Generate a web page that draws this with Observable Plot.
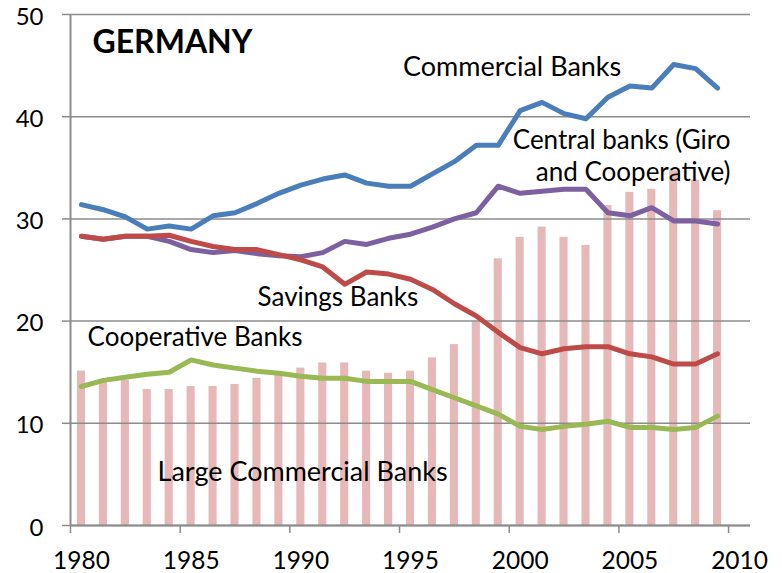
<!DOCTYPE html>
<html>
<head>
<meta charset="utf-8">
<script src="https://cdn.jsdelivr.net/npm/d3@7"></script>
<script src="https://cdn.jsdelivr.net/npm/@observablehq/plot@0.6"></script>
<style>
  html, body { margin: 0; padding: 0; background: #fff; }
  #chart svg { display: block; }
</style>
</head>
<body>
<div id="chart"></div>
<script>
// ---- data ----
const years = d3.range(1980, 2010);
const commercialBanks = [31.4,30.9,30.2,29.0,29.3,29.0,30.3,30.6,31.5,32.5,33.3,33.9,34.3,33.5,33.2,33.2,34.4,35.6,37.2,37.2,40.6,41.4,40.3,39.8,41.9,43.0,42.8,45.1,44.7,42.8];
const centralBanks = [28.3,28.0,28.3,28.3,27.8,27.0,26.7,26.9,26.6,26.4,26.3,26.7,27.8,27.5,28.1,28.5,29.2,30.0,30.6,33.2,32.5,32.7,32.9,32.9,30.6,30.3,31.1,29.8,29.8,29.5];
const savingsBanks = [28.3,28.0,28.3,28.3,28.4,27.8,27.3,27.0,27.0,26.5,26.0,25.3,23.6,24.8,24.6,24.1,23.1,21.7,20.5,18.9,17.4,16.8,17.3,17.5,17.5,16.8,16.5,15.8,15.8,16.8];
const cooperativeBanks = [13.6,14.2,14.5,14.8,15.0,16.2,15.7,15.4,15.1,14.9,14.6,14.4,14.4,14.1,14.1,14.1,13.3,12.5,11.7,10.9,9.7,9.4,9.7,9.9,10.2,9.6,9.6,9.4,9.6,10.7];
const largeCommercialBanks = [15.1,14.2,14.2,13.3,13.3,13.6,13.6,13.8,14.4,14.8,15.4,15.9,15.9,15.1,14.9,15.1,16.4,17.7,19.9,26.1,28.2,29.2,28.2,27.4,31.3,32.6,32.9,34.7,33.8,30.8];
const xTicks = [1980, 1985, 1990, 1995, 2000, 2005, 2010];
const yTicks = [0, 10, 20, 30, 40, 50];
const titleText = "GERMANY";
const seriesLabels = ["Commercial Banks", "Central banks (Giro", "and Cooperative)", "Savings Banks", "Cooperative Banks", "Large Commercial Banks"];

// ---- table built from arrays ----
const rows = years.map((year, i) => ({
  year,
  commercial: commercialBanks[i],
  central: centralBanks[i],
  savings: savingsBanks[i],
  cooperative: cooperativeBanks[i],
  large: largeCommercialBanks[i]
}));

const FONT = "Lato, 'Open Sans', sans-serif";
const GRID = "#8c8c8c";
const mid = d => d.year + 0.5;
const lineOpts = {x: mid, strokeWidth: 5, strokeLinejoin: "round", strokeLinecap: "round"};
const label = (txt, x, y, opts = {}) =>
  Plot.text([txt], {x: () => x, y: () => y, text: d => d, fontFamily: FONT, fontSize: 26, fill: "#000",
                    textAnchor: "start", lineAnchor: "middle", ...opts});

const chart = Plot.plot({
  width: 782,
  height: 573,
  marginLeft: 70,
  marginRight: 32,
  marginTop: 14,
  marginBottom: 48,
  x: {domain: [1980, 2011]},
  y: {domain: [0, 50]},
  style: {fontFamily: FONT, color: "#000", background: "#fff"},
  marks: [
    Plot.rectY(rows, {x1: d => d.year + 0.5 - 0.185, x2: d => d.year + 0.5 + 0.185, y: "large", fill: "#e6b9b8"}),
    Plot.gridY(yTicks, {stroke: GRID, strokeOpacity: 1, strokeWidth: 1.5}),
    Plot.axisY(yTicks, {tickSize: 8, stroke: GRID, strokeWidth: 1.5, tickFormat: () => "", label: null}),
    Plot.text(yTicks, {y: d => d, frameAnchor: "left", dx: -27, dy: 2.5, textAnchor: "end", lineAnchor: "middle",
                       text: d => String(d), fontSize: 24, fill: "#000", fontFamily: FONT}),
    Plot.axisX(xTicks, {tickSize: 8, stroke: GRID, strokeWidth: 1.5, tickFormat: () => "", label: null}),
    Plot.axisX(xTicks, {tickSize: 0, tickPadding: 26, dx: 11, fontSize: 24.5, fill: "#000", tickFormat: "d", label: null}),
    Plot.ruleX([1980], {stroke: GRID, strokeWidth: 2}),
    Plot.ruleY([0], {stroke: GRID, strokeWidth: 2}),
    Plot.lineY(rows, {...lineOpts, y: "central", stroke: "#7d60a0"}),
    Plot.lineY(rows, {...lineOpts, y: "savings", stroke: "#be4b48"}),
    Plot.lineY(rows, {...lineOpts, y: "cooperative", stroke: "#98b954"}),
    Plot.lineY(rows, {...lineOpts, y: "commercial", stroke: "#4a7ebb"}),
    label(titleText, 1981.0, 47.28, {fontSize: 32, fontWeight: "bold"}),
    label(seriesLabels[0], 1995.16, 44.85, {fontSize: 27}),
    label(seriesLabels[1], 2010.09, 37.7, {textAnchor: "end"}),
    label(seriesLabels[2], 2010.09, 34.57, {textAnchor: "end"}),
    label(seriesLabels[3], 1988.53, 22.34),
    label(seriesLabels[4], 1980.78, 18.42),
    label(seriesLabels[5], 1983.97, 5.22, {fontSize: 27})
  ]
});
document.getElementById("chart").appendChild(chart);
</script>
</body>
</html>
